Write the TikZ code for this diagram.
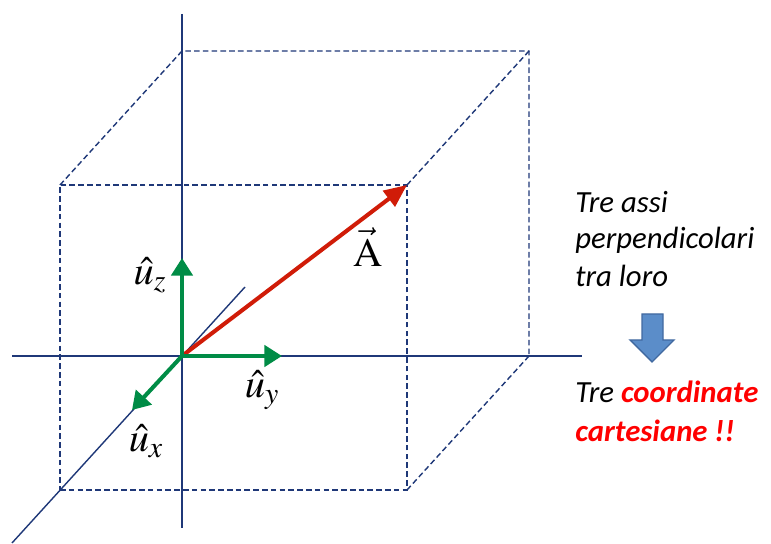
\documentclass[tikz,border=0pt]{standalone}
\usepackage{mathptmx}
\usepackage{fontspec}
\setmainfont{Liberation Serif}
\newfontfamily\calibri{Carlito}
\usetikzlibrary{arrows.meta}

\definecolor{axisblue}{RGB}{31,56,120}
\definecolor{vecred}{RGB}{208,28,8}
\definecolor{versgreen}{RGB}{0,140,70}
\definecolor{notered}{RGB}{255,0,0}
\definecolor{blockfill}{RGB}{91,141,201}
\definecolor{blockdraw}{RGB}{65,105,160}

\tikzset{
  axis/.style={draw=axisblue, line width=0.8pt},
  hidden/.style={draw=axisblue, line width=0.8pt, dash pattern=on 3.2pt off 1.8pt},
  versor/.style={draw=versgreen, line width=2.3pt, -{Triangle[length=10pt,width=12pt]}},
  vecA/.style={draw=vecred, line width=2.3pt, -{Triangle[length=13pt,width=11pt]}},
  lbl/.style={font=\fontsize{23}{27}\selectfont, inner sep=0pt},
  note/.style={font=\calibri\itshape\fontsize{17.5}{21}\selectfont, anchor=base west, inner sep=0pt},
}

\begin{document}
\begin{tikzpicture}[x=0.02cm, y=0.02cm]
    \useasboundingbox (0,0) rectangle (771,544);
    \def\dx{122}
    \def\dy{134}

    % origin and axes
    \coordinate (O) at (182,188);
    \coordinate (ztop) at (182,530);
    \coordinate (zbot) at (182,16);
    \coordinate (yleft) at (12,188);
    \coordinate (yright) at (582,188);
    \coordinate (xfar) at (12,1);
    \coordinate (xback) at (245,257);

    % box corners (front face, back face = front + (\dx,\dy))
    \coordinate (F1) at (60,54);
    \coordinate (F2) at (407,54);
    \coordinate (F3) at (407,359);
    \coordinate (F4) at (60,359);
    \coordinate (B2) at (407+\dx,54+\dy);
    \coordinate (B3) at (407+\dx,359+\dy);
    \coordinate (B4) at (60+\dx,359+\dy);

    \draw[hidden] (F1) -- (F2) -- (F3) -- (F4) -- cycle;
    \draw[hidden] (F4) -- (B4) -- (B3) -- (B2);
    \draw[hidden] (F3) -- (B3);
    \draw[hidden] (F2) -- (B2);

    \draw[axis] (ztop) -- (zbot);
    \draw[axis] (yleft) -- (yright);
    \draw[axis] (xfar) -- (xback);

    % vector A
    \draw[vecA] (O) -- (F3);
    \node[lbl] (labA) at (368,297) {$\vec{\mathrm{A}}$};

    % unit vectors
    \coordinate (uz) at (182,286);
    \coordinate (uy) at (282,188);
    \coordinate (ux) at (132,134);
    \draw[versor] (O) -- (uz);
    \draw[versor] (O) -- (uy);
    \draw[versor] (O) -- (ux);
    \node[lbl] (labz) at (150,269) {$\hat{u}_{z}$};
    \node[lbl] (laby) at (262,154) {$\hat{u}_{y}$};
    \node[lbl] (labx) at (146,103) {$\hat{u}_{x}$};

    % notes on the right
    \node[note] (assi1) at (575,331) {Tre assi};
    \node[note] (assi2) at (575,295) {perpendicolari};
    \node[note] (assi3) at (575,257) {tra loro};

    \draw[fill=blockfill, draw=blockdraw, line width=0.8pt]
        (642,230) -- (663,230) -- (663,204) -- (674,204) -- (652,182)
        -- (630,204) -- (642,204) -- cycle;

    \node[note] (coord1) at (575,141) {Tre \textbf{\color{notered}coordinate}};
    \node[note] (coord2) at (575,102) {\textbf{\color{notered}cartesiane !!}};
\end{tikzpicture}
\end{document}
